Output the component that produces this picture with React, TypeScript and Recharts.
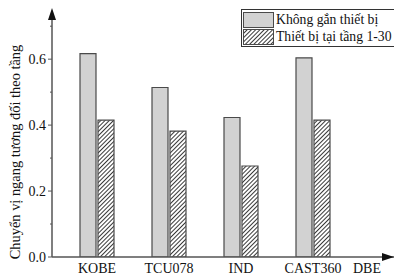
import { Bar, BarChart, Legend, XAxis, YAxis } from 'recharts'

const categories = ['KOBE', 'TCU078', 'IND', 'CAST360', 'DBE']
const noDevice = [0.617, 0.514, 0.423, 0.604, null]
const withDevice = [0.415, 0.382, 0.276, 0.415, null]
const yTicks = [0, 0.1, 0.2, 0.3, 0.4, 0.5, 0.6, 0.7]
const seriesNames = ['Không gắn thiết bị', 'Thiết bị tại tầng 1-30']

const data = categories.map((name, i) => ({
  name,
  a: noDevice[i],
  b: withDevice[i],
}))

const W = 394
const H = 277
const FONT = '"Liberation Serif", "Times New Roman", serif'
const AXIS = '#555'
const GRAY = '#d2d2d2'
const EDGE = '#4a4a4a'

const YTick = ({ x, y, payload }: any) => {
  const major = Math.round(payload.value * 10) % 2 === 0
  return (
    <g>
      <line x1={x - (major ? 4 : 2)} x2={x} y1={y} y2={y} stroke={AXIS} />
      {major && (
        <text x={x - 6} y={y + 5} textAnchor="end" fontSize={14} fontFamily={FONT} fill="#111">
          {payload.value.toFixed(1)}
        </text>
      )}
    </g>
  )
}

const XTick = ({ x, y, payload }: any) => (
  <text x={Math.min(x, W - 27)} y={y + 16} textAnchor="middle" fontSize={14} fontFamily={FONT} fill="#111">
    {payload.value}
  </text>
)

const YLabel = ({ viewBox }: any) => {
  const cx = 15
  const cy = viewBox.y + viewBox.height / 2 + 17
  return (
    <text
      x={cx}
      y={cy}
      transform={`rotate(-90, ${cx}, ${cy})`}
      textAnchor="middle"
      dominantBaseline="central"
      fontSize={14.4}
      fontFamily={FONT}
      fill="#111"
    >
      Chuyển vị ngang tương đối theo tầng
    </text>
  )
}

const LegendBox = () => (
  <div
    style={{
      border: '1px solid #333',
      background: '#fff',
      fontFamily: FONT,
      fontSize: 13.7,
      color: '#111',
      padding: '1px 0 1px 1px',
      width: 160,
      boxSizing: 'border-box',
      whiteSpace: 'nowrap',
    }}
  >
    {seriesNames.map((n, i) => (
      <div key={n} style={{ display: 'flex', alignItems: 'center', height: 17 }}>
        <svg width={31} height={16} style={{ marginRight: 2, flexShrink: 0 }}>
          <rect
            x={0.5}
            y={0.5}
            width={30}
            height={15}
            fill={i === 0 ? GRAY : 'url(#hatch)'}
            stroke={EDGE}
          />
        </svg>
        <span style={{ lineHeight: '17px', flexShrink: 0 }}>{n}</span>
      </div>
    ))}
  </div>
)

export default function App() {
  return (
    <div style={{ position: 'absolute', left: 0, top: 0, width: W, height: H, background: '#fff', overflow: 'hidden' }}>
      <svg width={0} height={0} style={{ position: 'absolute' }}>
        <defs>
          <pattern id="hatch" patternUnits="userSpaceOnUse" width={3} height={3} patternTransform="rotate(45)">
            <rect width={3} height={3} fill="#fff" />
            <line x1={0} y1={0} x2={0} y2={3} stroke="#222" strokeWidth={1.8} />
          </pattern>
        </defs>
      </svg>
      <BarChart
        width={W}
        height={H}
        data={data}
        margin={{ top: 13, right: -27, bottom: 0, left: 0 }}
        barSize={16}
        barGap={2}
      >
        <XAxis
          dataKey="name"
          height={20}
          padding={{ left: 9, right: 0 }}
          axisLine={{ stroke: AXIS, strokeWidth: 1.5 }}
          tickLine={false}
          tickSize={0}
          tickMargin={0}
          tick={<XTick />}
          interval={0}
        />
        <YAxis
          width={52}
          domain={[0, 0.74]}
          ticks={yTicks}
          axisLine={{ stroke: AXIS, strokeWidth: 1.5 }}
          tickLine={false}
          tickSize={0}
          tickMargin={0}
          tick={<YTick />}
          label={<YLabel />}
          allowDataOverflow
        />
        <Legend
          layout="vertical"
          align="center"
          verticalAlign="middle"
          content={<LegendBox />}
          wrapperStyle={{ left: 241, top: 9, width: 160, height: 36 }}
        />
        <Bar dataKey="a" name={seriesNames[0]} fill={GRAY} stroke={EDGE} strokeWidth={1.2} isAnimationActive={false} />
        <Bar dataKey="b" name={seriesNames[1]} fill="url(#hatch)" stroke={EDGE} strokeWidth={1.2} isAnimationActive={false} />
      </BarChart>
      <svg width={W} height={H} style={{ position: 'absolute', left: 0, top: 0, pointerEvents: 'none' }}>
        <polygon points="52,8 48,20 56,20" fill="#111" />
        <polygon points="394,257 382,253 382,261" fill="#111" />
      </svg>
    </div>
  )
}
